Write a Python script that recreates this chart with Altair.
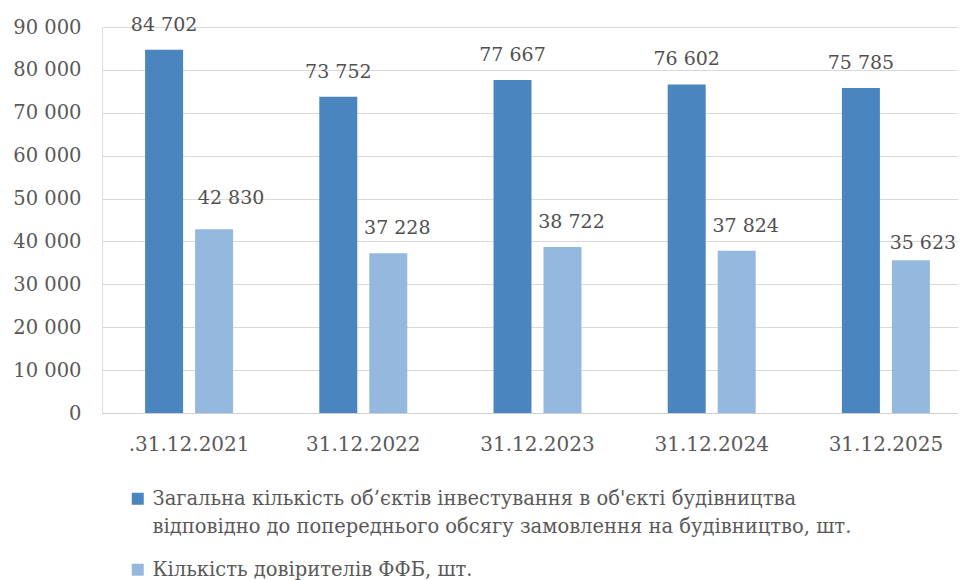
import altair as alt
import pandas as pd

dates = [".31.12.2021", "31.12.2022", "31.12.2023", "31.12.2024", "31.12.2025"]
total_objects = [84702, 73752, 77667, 76602, 75785]
trustors = [42830, 37228, 38722, 37824, 35623]
series_names = [
    "Загальна кількість об’єктів інвестування в об'єкті будівництва|відповідно до попереднього обсягу замовлення на будівництво, шт.",
    "Кількість довірителів ФФБ, шт.",
]
colors = ["#4a85c0", "#95b8df"]
y_ticks = [0, 10000, 20000, 30000, 40000, 50000, 60000, 70000, 80000, 90000]

rows = []
for d, a, b in zip(dates, total_objects, trustors):
    rows.append({"date": d, "series": series_names[0], "value": a})
    rows.append({"date": d, "series": series_names[1], "value": b})
df = pd.DataFrame(rows)

font = "DejaVu Serif"
axis_col = "#595959"
lab_col = "#505050"
fmt = "replace(format(datum.value, ','), ',', ' ')"

x_enc = alt.X(
    "date:N",
    sort=dates,
    scale=alt.Scale(range=[0, 871], paddingInner=0, paddingOuter=0),
    axis=alt.Axis(
        title=None, labelAngle=0, ticks=False, grid=False,
        domainColor="#cfcfcf", labelFont=font, labelFontSize=20,
        labelColor=axis_col, labelPadding=21,
    ),
)
xo_enc = alt.XOffset(
    "series:N", sort=series_names,
    scale=alt.Scale(paddingInner=0.24, paddingOuter=0.8625),
)
y_enc = alt.Y(
    "value:Q",
    scale=alt.Scale(domain=[0, 90000]),
    axis=alt.Axis(
        title=None, values=y_ticks, labelExpr=fmt, domain=False, ticks=False,
        gridColor="#d9d9d9", labelFont=font, labelFontSize=19.5,
        labelColor=axis_col, labelPadding=21,
    ),
)
color_enc = alt.Color(
    "series:N",
    sort=series_names,
    scale=alt.Scale(domain=series_names, range=colors),
    legend=alt.Legend(
        orient="none", legendX=26, legendY=462, direction="vertical",
        title=None, symbolType="square", symbolSize=144, symbolStrokeWidth=0,
        labelFont=font, labelFontSize=19.5, labelColor=axis_col, labelLimit=900,
        labelExpr="split(datum.label, '|')", rowPadding=22, labelOffset=5,
    ),
)

base = alt.Chart(df).encode(x=x_enc, xOffset=xo_enc, y=y_enc)

bars = base.mark_bar().encode(color=color_enc)

lbl = base.transform_calculate(lbl=fmt)
txt_kw = dict(font=font, fontSize=19, color=lab_col, baseline="middle", align="center")

dark_lbl = lbl.transform_filter(
    alt.datum.series == series_names[0]
).mark_text(dy=-25, **txt_kw).encode(text="lbl:N")

light_mid = lbl.transform_filter(
    (alt.datum.series == series_names[1]) & (alt.datum.date != dates[0]) & (alt.datum.date != dates[-1])
).mark_text(dx=9, dy=-25, **txt_kw).encode(text="lbl:N")

light_first = lbl.transform_filter(
    (alt.datum.series == series_names[1]) & (alt.datum.date == dates[0])
).mark_text(dx=17, dy=-31, **txt_kw).encode(text="lbl:N")

light_last = lbl.transform_filter(
    (alt.datum.series == series_names[1]) & (alt.datum.date == dates[-1])
).mark_text(dx=12, dy=-17, **txt_kw).encode(text="lbl:N")

chart = alt.layer(bars, dark_lbl, light_mid, light_first, light_last).properties(
    width=856,
    height=386,
    autosize="none",
    padding={"left": 94, "top": 19, "right": 0, "bottom": 170},
    background="white",
).configure_view(stroke=None).configure(
    style={"guide-label": {"lineHeight": 28}}
)

chart.save("out.html", embed_options={"renderer": "svg", "actions": False})
